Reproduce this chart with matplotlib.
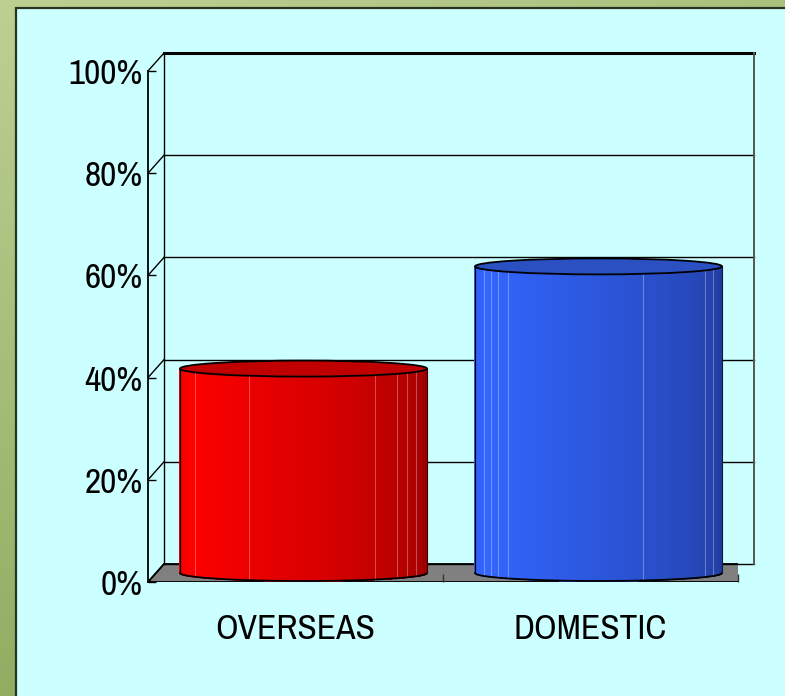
import numpy as np
import matplotlib
matplotlib.use("Agg")
import matplotlib.pyplot as plt
import matplotlib.transforms as mtransforms
from matplotlib.patches import Rectangle, Polygon, Ellipse
from matplotlib.collections import PolyCollection
from matplotlib.colors import LinearSegmentedColormap, to_rgb

# ---- data ----
categories = ["OVERSEAS", "DOMESTIC"]
values = [40, 60]
yticks = [0, 20, 40, 60, 80, 100]
ytick_labels = ["0%", "20%", "40%", "60%", "80%", "100%"]

# ---- style ----
plt.rcParams["font.family"] = ["Archivo Narrow", "DejaVu Sans"]
W, H, DPI = 785, 696, 100
DX, DY = 16, 18          # depth offset of the back wall, pixels
RY_PX = 8                # half-height of cylinder ellipses, pixels
BAR_W = 0.837            # cylinder diameter in category units

red_stops = [(0, "#E00000"), (0.12, "#FF0000"), (0.3, "#F20000"),
             (0.6, "#D20000"), (0.85, "#B00000"), (1, "#960000")]
blue_stops = [(0, "#2F5CE8"), (0.15, "#3366FF"), (0.35, "#2F5EEE"),
              (0.6, "#2A52D0"), (0.85, "#2444B0"), (1, "#203C98")]
bar_styles = [
    dict(cmap=LinearSegmentedColormap.from_list("r", red_stops), top="#C00000",
         facets=[0.06, 0.28, 0.79, 0.88, 0.92, 0.955]),
    dict(cmap=LinearSegmentedColormap.from_list("b", blue_stops), top="#2A50C2",
         facets=[0.035, 0.065, 0.095, 0.135, 0.68, 0.93, 0.963]),
]

fig = plt.figure(figsize=(W / DPI, H / DPI), dpi=DPI)

# green gradient frame + cyan panel, in a background axes
bg = fig.add_axes([0, 0, 1, 1], zorder=-5)
bg.set_axis_off()
yy, xx = np.mgrid[0:1:60j, 0:1:60j]
t = (0.7 * yy + 0.3 * xx)[..., None]
c0 = np.array(to_rgb("#BDD092"))
c1 = np.array(to_rgb("#7E9F4E"))
bg.imshow(c0 * (1 - t) + c1 * t, extent=[0, 1, 0, 1], aspect="auto", origin="upper")
bg.set_xlim(0, 1)
bg.set_ylim(0, 1)
bg.add_patch(Rectangle((16 / W, -0.01), 1.0, 1 - 8 / H + 0.01,
                       facecolor="#CCFFFF", edgecolor="#26331f", linewidth=1.6,
                       zorder=2, clip_on=False))

# main axes = front plane of the 3D box
left, right = 148 / W, 738 / W
bottom, top = 1 - 582 / H, 1 - 71 / H
ax = fig.add_axes([left, bottom, right - left, top - bottom])
ax.set_xlim(0, len(categories))
ax.set_ylim(0, 100)
ax.patch.set_visible(False)
for s in ax.spines.values():
    s.set_visible(False)

back = mtransforms.offset_copy(ax.transData, fig=fig, x=DX, y=DY, units="dots")
mid = mtransforms.offset_copy(ax.transData, fig=fig, x=DX / 2, y=DY / 2, units="dots")
x0, x1 = ax.get_xlim()
ry = RY_PX * 100 / ((top - bottom) * H)

# floor
floor = np.array([[x0, 0], [x1, 0]])
pts = [ax.transData.transform(p) for p in floor] + \
      [back.transform(p) for p in floor[::-1]]
ax.add_patch(Polygon(pts, closed=True, transform=None, facecolor="#808080",
                     edgecolor="black", linewidth=1.3, zorder=1))

# back wall gridlines and left wall diagonals
for v in yticks:
    lw = 2.2 if v == 100 else 1.0
    ax.plot([x0, x1], [v, v], transform=back, color="black", lw=lw,
            clip_on=False, zorder=2)
    p0 = ax.transData.transform((x0, v))
    p1 = back.transform((x0, v))
    ax.plot([p0[0], p1[0]], [p0[1], p1[1]], transform=None, color="black",
            lw=1.0, clip_on=False, zorder=2)
ax.plot([x0, x0], [0, 100], transform=back, color="black", lw=1.0, clip_on=False, zorder=2)
ax.plot([x1, x1], [0, 100], transform=back, color="#555555", lw=1.4, clip_on=False, zorder=2)
ax.plot([x0, x0], [0, 100], color="black", lw=1.3, clip_on=False, zorder=2)

# cylinders
for i, (v, st) in enumerate(zip(values, bar_styles)):
    cx = i + 0.5
    r = BAR_W / 2
    th = np.linspace(np.pi, 0, 121)
    xs = cx + r * np.cos(th)
    ys = -ry * np.sin(th)
    polys, cols = [], []
    for k in range(len(th) - 1):
        polys.append([(xs[k], ys[k]), (xs[k + 1], ys[k + 1]),
                      (xs[k + 1], v + ys[k + 1]), (xs[k], v + ys[k])])
        cols.append(st["cmap"]((k + 0.5) / (len(th) - 1)))
    ax.add_collection(PolyCollection(polys, facecolors=cols, edgecolors=cols,
                                     linewidths=0.6, antialiaseds=False,
                                     transform=mid, zorder=3, clip_on=False))
    for u in st["facets"]:
        ux = cx - r + u * BAR_W
        uy = -ry * np.sqrt(max(0.0, 1 - ((ux - cx) / r) ** 2))
        ax.plot([ux, ux], [uy, v + uy], transform=mid, color="white",
                alpha=0.3, lw=0.8, clip_on=False, zorder=3.2)
    # outlines
    ax.plot(xs, ys, transform=mid, color="black", lw=1.3, clip_on=False, zorder=3.5)
    ax.plot([cx - r, cx - r], [0, v], transform=mid, color="black", lw=0.8,
            clip_on=False, zorder=3.5)
    ax.plot([cx + r, cx + r], [0, v], transform=mid, color="#400000" if i == 0 else "#101840",
            lw=0.8, clip_on=False, zorder=3.5)
    ax.add_patch(Ellipse((cx, v), BAR_W, 2 * ry, transform=mid, facecolor=st["top"],
                         edgecolor="black", linewidth=1.3, zorder=4, clip_on=False))

# ticks and labels
ax.set_yticks(yticks)
ax.set_yticklabels(ytick_labels, fontweight="medium")
ax.tick_params(axis="y", direction="in", length=5.5, width=1.0, pad=4,
               labelsize=25.5, color="black")
ax.set_xticks([i + 0.5 for i in range(len(categories))])
ax.set_xticklabels(categories, fontweight="medium")
ax.tick_params(axis="x", length=0, pad=22, labelsize=25.5)
ax.set_xticks(range(1, len(categories) + 1), minor=True)
ax.tick_params(axis="x", which="minor", direction="in", length=6, width=1.0,
               color="#333333")

fig.savefig("out.png", dpi=DPI)
